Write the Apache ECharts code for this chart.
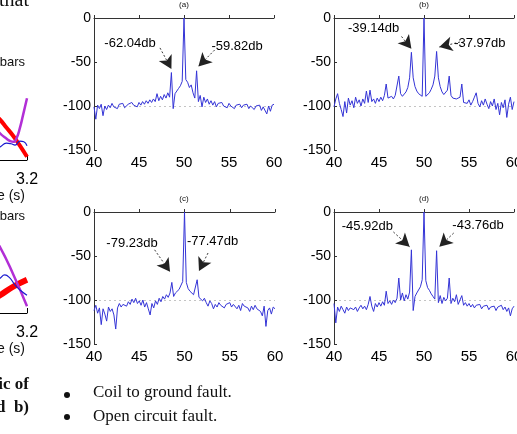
<!DOCTYPE html>
<html>
<head>
<meta charset="utf-8">
<script src="https://cdn.jsdelivr.net/npm/echarts@6.0.0/dist/echarts.min.js"></script>
<style>
  html, body { margin: 0; padding: 0; background: #fff; }
  #page { width: 517px; height: 434px; }
</style>
</head>
<body>
<div id="page"></div>
<script>
// frequency grid of the four spectra (Hz)
var freq = [
  40,40.2,40.4,40.6,40.8,41,41.2,41.4,41.6,41.8,
  42,42.2,42.4,42.6,42.8,43,43.2,43.4,43.6,43.8,
  44,44.2,44.4,44.6,44.8,45,45.2,45.4,45.6,45.8,
  46,46.2,46.4,46.6,46.8,47,47.2,47.4,47.6,47.8,
  48,48.2,48.4,48.6,48.8,49,49.2,49.4,49.6,49.8,
  50,50.2,50.4,50.6,50.8,51,51.2,51.4,51.6,51.8,
  52,52.2,52.4,52.6,52.8,53,53.2,53.4,53.6,53.8,
  54,54.2,54.4,54.6,54.8,55,55.2,55.4,55.6,55.8,
  56,56.2,56.4,56.6,56.8,57,57.2,57.4,57.6,57.8,
  58,58.2,58.4,58.6,58.8,59,59.2,59.4,59.6,59.8,
  60
];

// magnitudes in db
var dbA = [
  -101,-115,-99,-103,-98,-111,-100,-104,-99,-102,
  -97,-101,-99,-103,-98,-100,-97,-102,-104,-98,
  -100,-96,-99,-97,-101,-96,-99,-95,-98,-94,
  -97,-93,-96,-92,-95,-86,-94,-89,-93,-87,
  -91,-85,-90,-62,-103,-86,-83,-80,-77,-72,
  0,-70,-73,-79,-76,-85,-91,-60,-95,-88,
  -101,-90,-96,-92,-98,-94,-99,-95,-101,-97,
  -99,-96,-100,-98,-102,-97,-100,-98,-103,-99,
  -101,-98,-102,-99,-101,-98,-103,-100,-99,-104,
  -100,-102,-99,-105,-101,-103,-109,-100,-106,-99,
  -98
];
var dbB = [
  -101,-92,-86,-97,-104,-112,-95,-108,-91,-99,
  -94,-102,-90,-97,-93,-100,-92,-97,-83,-96,
  -82,-95,-92,-97,-91,-95,-90,-94,-88,-75,
  -91,-93,-89,-92,-88,-90,-66,-86,-89,-87,
  -84,-79,-68,-39,-68,-78,-83,-86,-88,-89,
  0,-89,-87,-85,-81,-76,-66,-38,-68,-78,
  -84,-87,-86,-82,-66,-88,-91,-93,-92,-94,
  -90,-75,-96,-94,-97,-93,-99,-95,-90,-85,
  -97,-101,-94,-99,-92,-98,-103,-95,-100,-92,
  -104,-97,-110,-96,-102,-93,-113,-98,-90,-104,
  -95
];
var dbC = [
  -112,-106,-115,-109,-128,-110,-116,-124,-108,-113,
  -110,-117,-133,-109,-104,-108,-105,-103,-107,-102,
  -105,-99,-103,-98,-104,-101,-106,-100,-108,-103,
  -110,-117,-104,-109,-101,-105,-98,-102,-96,-99,
  -94,-97,-92,-80,-96,-92,-90,-88,-86,-79,
  0,-80,-87,-90,-92,-94,-96,-77,-97,-99,
  -101,-98,-103,-107,-101,-104,-110,-105,-108,-103,
  -106,-104,-109,-105,-107,-103,-108,-105,-104,-110,
  -106,-112,-104,-107,-105,-109,-113,-107,-111,-106,
  -110,-108,-113,-118,-107,-130,-112,-109,-116,-108,
  -110
];
var dbD = [
  -104,-126,-108,-113,-107,-111,-115,-108,-112,-109,
  -107,-111,-108,-113,-109,-106,-110,-107,-111,-105,
  -96,-107,-113,-104,-108,-103,-107,-102,-106,-90,
  -104,-101,-105,-100,-103,-98,-75,-100,-92,-101,
  -94,-99,-91,-43,-112,-96,-92,-90,-85,-77,
  0,-78,-86,-89,-93,-96,-99,-44,-103,-95,
  -104,-97,-101,-98,-75,-104,-98,-102,-94,-105,
  -100,-95,-106,-103,-107,-104,-108,-105,-109,-106,
  -108,-105,-110,-107,-109,-106,-111,-108,-110,-107,
  -112,-108,-110,-106,-111,-108,-113,-109,-118,-110,
  -107
];

var panelTitles = ['(a)', '(b)', '(c)', '(d)'];
var sideLabels = [
  ['-62.04db', '-59.82db'],
  ['-39.14db', '-37.97db'],
  ['-79.23db', '-77.47db'],
  ['-45.92db', '-43.76db']
];
var xTicks = [40, 45, 50, 55, 60];
var yTicks = [-150, -100, -50, 0];

// cut-off curves of the neighbouring figure (left edge of the page)
var leftTop = {
  red:    [[2.7,0.82],[2.86,0.62],[2.94,0.5],[3.02,0.38],[3.1,0.24],[3.2,0.05]],
  purple: [[2.8,0.5],[2.86,0.41],[2.94,0.33],[2.99,0.29],[3.03,0.28],[3.07,0.34],[3.11,0.49],[3.15,0.69],[3.2,0.95]],
  blue:   [[2.8,0.17],[2.86,0.2],[2.94,0.26],[3.0,0.25],[3.05,0.23],[3.11,0.29],[3.16,0.28],[3.2,0.22]]
};
var leftBottom = {
  red:    [[2.8,0.22],[2.86,0.26],[3.03,0.39],[3.2,0.49]],
  purple: [[2.8,1.05],[2.86,0.97],[3.03,0.56],[3.2,0.1]],
  blue:   [[2.8,0.45],[2.86,0.51],[2.92,0.56],[2.98,0.52],[3.05,0.41],[3.12,0.33],[3.2,0.26]]
};

var sans = 'Liberation Sans, Arial, sans-serif';
var serif = 'Liberation Serif, Times New Roman, serif';
var blue = '#3434d6';

function zip(xs, ys) {
  var out = [];
  for (var i = 0; i < xs.length; i++) out.push([xs[i], ys[i]]);
  return out;
}

var chart = echarts.init(document.getElementById('page'), null, { renderer: 'canvas' });

var gridBoxes = [
  { left: 94,  top: 18,  width: 180, height: 132 },
  { left: 334, top: 18,  width: 180, height: 132 },
  { left: 94,  top: 212, width: 181, height: 132 },
  { left: 334, top: 212, width: 180, height: 132 },
  { left: -100, top: 95,  width: 127, height: 65 },
  { left: -100, top: 245, width: 127, height: 68 }
];
var grid = gridBoxes.map(function (g) {
  return Object.assign({ containLabel: false, outerBoundsMode: 'none' }, g);
});

// text position, arrow tail, arrow tip for each sideband label (data coords)
var noteLayout = [
  [ { text: [44.0, -28.4], from: [47.33, -34], to: [48.6, -58] },
    { text: [55.9, -31.8], from: [53.4, -36.4], to: [51.6, -55] } ],
  [ { text: [44.4, -11.4], from: [47.5, -21], to: [48.6, -35] },
    { text: [56.2, -28.4], from: [54.0, -27.3], to: [51.7, -33] } ],
  [ { text: [44.2, -35.2], from: [46.7, -43], to: [48.4, -68] },
    { text: [53.1, -34.0], from: [52.6, -46.6], to: [51.6, -67] } ],
  [ { text: [43.7, -15.9], from: [46.6, -22.7], to: [48.4, -39.5] },
    { text: [56.0, -14.8], from: [53.3, -23.9], to: [51.7, -39.5] } ]
];

var xAxis = [], yAxis = [], series = [];
var spectra = [dbA, dbB, dbC, dbD];

for (var p = 0; p < 4; p++) {
  xAxis.push({
    type: 'value', gridIndex: p,
    min: xTicks[0], max: xTicks[xTicks.length - 1], interval: 5,
    axisLine: { lineStyle: { color: '#333', width: 1 } },
    axisTick: { inside: true, length: 3, lineStyle: { color: '#333' } },
    axisLabel: { fontSize: 15, color: '#000', margin: 5, fontFamily: sans },
    splitLine: { show: false }
  });
  yAxis.push({
    type: 'value', gridIndex: p,
    min: yTicks[0], max: yTicks[yTicks.length - 1], interval: 50,
    axisLine: { show: true, lineStyle: { color: '#333', width: 1 } },
    axisTick: { show: true, inside: true, length: 3, lineStyle: { color: '#333' } },
    axisLabel: { fontSize: 14, color: '#000', margin: 3, fontFamily: sans },
    splitLine: {
      show: true,
      lineStyle: { type: [2, 3], width: 1, color: ['rgba(0,0,0,0)', '#c4c4c4', 'rgba(0,0,0,0)', '#c4c4c4'] }
    }
  });

  var arrows = [], texts = [];
  for (var k = 0; k < 2; k++) {
    var n = noteLayout[p][k];
    arrows.push([
      { coord: n.from, symbol: 'none' },
      { coord: n.to, symbol: 'arrow', symbolSize: [11, 13] }
    ]);
    texts.push({ name: sideLabels[p][k], coord: n.text });
  }

  series.push({
    type: 'line',
    xAxisIndex: p, yAxisIndex: p,
    data: zip(freq, spectra[p]),
    symbol: 'none',
    lineStyle: { color: blue, width: 1 },
    itemStyle: { color: blue },
    silent: true,
    markLine: {
      silent: true,
      symbol: ['none', 'arrow'],
      label: { show: false },
      lineStyle: { type: [2, 2], width: 0.9, color: '#222' },
      itemStyle: { color: '#000' },
      data: arrows
    },
    markPoint: {
      silent: true,
      symbol: 'circle', symbolSize: 0,
      itemStyle: { color: 'rgba(0,0,0,0)' },
      label: {
        show: true, position: 'inside', formatter: '{b}',
        fontSize: 13, color: '#000', fontFamily: sans
      },
      data: texts
    }
  });
}

// neighbouring figure, only its right edge is on the page
var leftSets = [leftTop, leftBottom];
for (var q = 0; q < 2; q++) {
  var gi = 4 + q;
  xAxis.push({
    type: 'value', gridIndex: gi,
    min: 1.6, max: 3.2, interval: 0.8,
    axisLine: { lineStyle: { color: '#000', width: 1 } },
    axisTick: { inside: true, length: 5, lineStyle: { color: '#000' } },
    axisLabel: {
      fontSize: 16, color: '#000', margin: 12, fontFamily: sans,
      formatter: function (v) { return v.toFixed(1); }
    },
    splitLine: { show: false }
  });
  yAxis.push({ type: 'value', gridIndex: gi, min: 0, max: 1, show: false });

  var s = leftSets[q];
  series.push({ type: 'line', xAxisIndex: gi, yAxisIndex: gi, data: s.red, smooth: true, symbol: 'none',
    lineStyle: { color: '#ff0000', width: q === 0 ? 4 : 6 } });
  series.push({ type: 'line', xAxisIndex: gi, yAxisIndex: gi, data: s.purple, smooth: true, symbol: 'none',
    lineStyle: { color: '#b22fd6', width: 2.5 } });
  series.push({ type: 'line', xAxisIndex: gi, yAxisIndex: gi, data: s.blue, smooth: true, symbol: 'none',
    lineStyle: { color: '#1a1ad0', width: 1.2 } });
}

function txt(x, y, text, font, align) {
  return { type: 'text', x: x, y: y, silent: true,
    style: { text: text, font: font, fill: '#111', align: align || 'left', verticalAlign: 'middle' } };
}
function dot(x, y) {
  return { type: 'circle', silent: true, shape: { cx: x, cy: y, r: 3 }, style: { fill: '#111' } };
}

var graphic = [
  txt(184, 5, panelTitles[0], '8px ' + sans, 'center'),
  txt(424, 5, panelTitles[1], '8px ' + sans, 'center'),
  txt(184, 199, panelTitles[2], '8px ' + sans, 'center'),
  txt(424, 199, panelTitles[3], '8px ' + sans, 'center'),
  // surrounding page text
  txt(29, 1, 'that', '20px ' + serif, 'right'),
  txt(25, 62, 'bars', '13px ' + sans, 'right'),
  txt(25, 196, 'Time (s)', '14px ' + sans, 'right'),
  txt(25, 216, 'bars', '13px ' + sans, 'right'),
  txt(25, 349, 'Time (s)', '14px ' + sans, 'right'),
  txt(29, 385, 'ic of', 'bold 17px ' + serif, 'right'),
  txt(29, 408, 'd  b)', 'bold 17px ' + serif, 'right'),
  dot(67, 395),
  dot(67, 417),
  txt(93, 393, 'Coil to ground fault.', '17px ' + serif, 'left'),
  txt(93, 417, 'Open circuit fault.', '17px ' + serif, 'left')
];

chart.setOption({
  animation: false,
  backgroundColor: '#fff',
  grid: grid,
  xAxis: xAxis,
  yAxis: yAxis,
  series: series,
  graphic: graphic
});
</script>
</body>
</html>
